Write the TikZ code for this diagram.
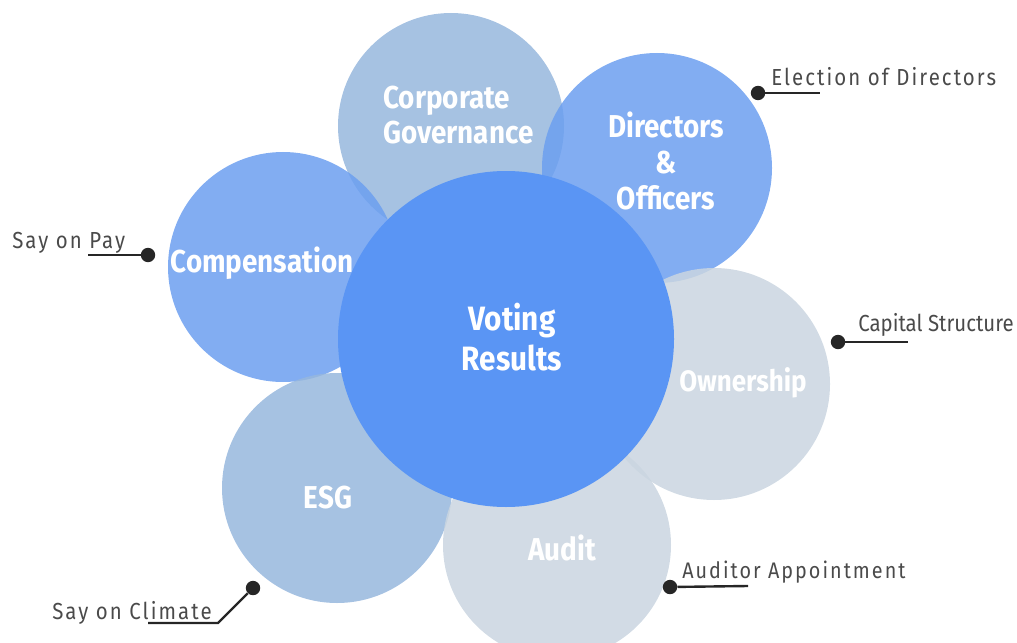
\documentclass[tikz,border=0pt]{standalone}
\usepackage{fontspec}
\setmainfont{Fira Sans}
\newfontfamily\bubblefont[FakeStretch=0.88]{Fira Sans}
\newfontfamily\notefont[FakeStretch=0.88,LetterSpace=9]{Fira Sans}
\newfontfamily\plainnotefont[FakeStretch=0.88]{Fira Sans}
\usetikzlibrary{positioning}
\definecolor{votecol}{HTML}{5A95F4}
\definecolor{govcol}{HTML}{96B7DD}
\definecolor{dircol}{HTML}{6C9FF0}
\definecolor{greycol}{HTML}{CAD5E0}
\definecolor{notegray}{HTML}{4A4A4A}
\definecolor{dotcol}{HTML}{262626}

\begin{document}
\begin{tikzpicture}[x=0.025cm,y=-0.025cm]
    \tikzstyle{every node}+=[inner sep=0pt]
    \tikzstyle{bubble}=[text=white,align=center,font=\bubblefont\bfseries\fontsize{22.5}{25.5}\selectfont]
    \tikzstyle{note}=[text=notegray,anchor=base west,font=\notefont\fontsize{16.5}{20}\selectfont]
    \tikzstyle{dotmark}=[circle,fill=dotcol,minimum size=0.36cm]
    \tikzstyle{leader}=[dotcol,line width=1.7pt]
    \tikzstyle{petal}=[fill opacity=0.85]
    \useasboundingbox (0,0) rectangle (1017,643);
    \clip (0,0) rectangle (1017,643);
    % outer circles
    \fill [petal,govcol] (451,126) circle (113);
    \fill [petal,dircol] (657,168) circle (115);
    \fill [petal,dircol] (283,267) circle (115);
    \fill [petal,greycol] (714,384) circle (116);
    \fill [petal,govcol] (337,488) circle (115);
    \fill [petal,greycol] (557,545) circle (114);
    % centre
    \fill [votecol] (506,339) circle (168);
    % labels
    \node [bubble,align=left,anchor=west] (gov) at (383,115) {Corporate\\Governance};
    \node [bubble] (dir) at (666,161) {Directors\\\&\\Officers};
    \node [bubble] (comp) at (262,263) {Compensation};
    \node [bubble,font=\bubblefont\bfseries\fontsize{21}{25}\selectfont] (own) at (743,383) {Ownership};
    \node [bubble] (esg) at (328,498) {ESG};
    \node [bubble] (aud) at (562,548) {Audit};
    \node [bubble,font=\bubblefont\bfseries\fontsize{24}{29}\selectfont] (vote) at (512,337) {Voting\\Results};
    % notes
    \node [dotmark] (d-elect) at (758,93) {};
    \coordinate (e-elect) at (820,93);
    \draw [leader] (d-elect) -- (e-elect);
    \node [note] (t-elect) at (771,86) {Election of Directors};
    \node [dotmark] (d-cap) at (838,342) {};
    \coordinate (e-cap) at (908,342);
    \draw [leader] (d-cap) -- (e-cap);
    \node [note,font=\plainnotefont\fontsize{16.5}{20}\selectfont] (t-cap) at (858,331) {Capital Structure};
    \node [dotmark] (d-pay) at (148,255) {};
    \coordinate (e-pay) at (88,255);
    \draw [leader] (d-pay) -- (e-pay);
    \node [note] (t-pay) at (12,248) {Say on Pay};
    \node [dotmark] (d-clim) at (253,588) {};
    \coordinate (k-clim) at (218,623);
    \coordinate (e-clim) at (148,623);
    \draw [leader] (d-clim) -- (k-clim) -- (e-clim);
    \node [note] (t-clim) at (52,619) {Say on Climate};
    \node [dotmark] (d-aud) at (670,587) {};
    \coordinate (e-aud) at (748,586);
    \draw [leader] (d-aud) -- (e-aud);
    \node [note,font=\notefont\fontsize{16}{20}\selectfont] (t-aud) at (682,578) {Auditor Appointment};
\end{tikzpicture}
\end{document}
